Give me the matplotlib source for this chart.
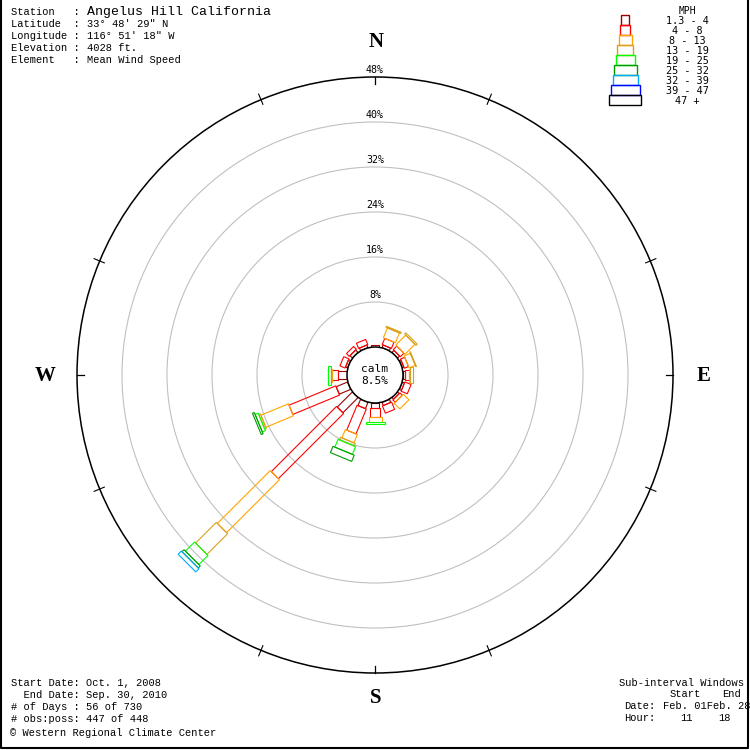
import numpy as np
import matplotlib
matplotlib.use('Agg')
import matplotlib.pyplot as plt
from matplotlib.patches import Polygon, Circle, Rectangle

# ---------------- data ----------------
directions = ['N', 'NNE', 'NE', 'ENE', 'E', 'ESE', 'SE', 'SSE',
              'S', 'SSW', 'SW', 'WSW', 'W', 'WNW', 'NW', 'NNW']
bearing_deg = [0, 22.5, 45, 67.5, 90, 112.5, 135, 157.5,
               180, 202.5, 225, 247.5, 270, 292.5, 315, 337.5]
speed_labels = ['1.3 - 4', '4 - 8', '8 - 13', '13 - 19', '19 - 25',
                '25 - 32', '32 - 39', '39 - 47', '47 +']
#            N    NNE  NE   ENE  E    ESE  SE   SSE  S    SSW  SW    WSW   W    WNW  NW   NNW
pct_1_4   = [0.3, 0.5, 0.5, 0.3, 0.4, 0.4, 0.4, 0.6, 0.9, 1.2, 3.8,  2.2,  1.6, 0.4, 0.6, 0.5]
pct_4_8   = [0.0, 1.2, 0.9, 0.8, 0.6, 1.2, 0.6, 1.4, 1.6, 4.8, 16.4, 9.0,  1.1, 1.0, 0.7, 1.0]
pct_8_13  = [0.0, 1.9, 2.5, 1.2, 0.3, 0.0, 1.4, 0.0, 0.9, 1.6, 13.3, 5.3,  0.2, 0.0, 0.0, 0.0]
pct_13_19 = [0.0, 0.2, 0.3, 0.1, 0.4, 0.0, 0.0, 0.0, 0.0, 0.5, 5.2,  0.3,  0.0, 0.0, 0.0, 0.0]
pct_19_25 = [0.0, 0.0, 0.0, 0.0, 0.0, 0.0, 0.0, 0.0, 0.3, 1.5, 2.3,  0.6,  0.5, 0.0, 0.0, 0.0]
pct_25_32 = [0.0, 0.0, 0.0, 0.0, 0.0, 0.0, 0.0, 0.0, 0.0, 1.2, 0.5,  0.35, 0.0, 0.0, 0.0, 0.0]
pct_32_39 = [0.0, 0.0, 0.0, 0.0, 0.0, 0.0, 0.0, 0.0, 0.0, 0.0, 0.8,  0.0,  0.0, 0.0, 0.0, 0.0]
pct_39_47 = [0.0, 0.0, 0.0, 0.0, 0.0, 0.0, 0.0, 0.0, 0.0, 0.0, 0.0,  0.0,  0.0, 0.0, 0.0, 0.0]
pct_47_up = [0.0, 0.0, 0.0, 0.0, 0.0, 0.0, 0.0, 0.0, 0.0, 0.0, 0.0,  0.0,  0.0, 0.0, 0.0, 0.0]
calm_pct = 8.5
ring_pct = [8, 16, 24, 32, 40, 48]

header_keys = ['Station   : ', 'Latitude  : ', 'Longitude : ', 'Elevation : ', 'Element   : ']
header_vals = ['Angelus Hill California', '33\u00b0 48\' 29" N', '116\u00b0 51\' 18" W',
               '4028 ft.', 'Mean Wind Speed']
footer_left = ['Start Date: Oct. 1, 2008', '  End Date: Sep. 30, 2010',
               '# of Days : 56 of 730', '# obs:poss: 447 of 448']
credit = '\u00a9 Western Regional Climate Center'

# ---------------- style ----------------
class_colors = ['#990000', '#ff0000', '#ffa500', '#d8a020', '#00ff00',
                '#009900', '#00aaff', '#0000ff', '#000000']
class_widths_px = [8, 10, 13, 16, 19, 23, 25, 29, 32]
PX = 5.625            # pixels per percent
CALM_R = 28 / PX      # calm circle radius in percent units
MONO = 'Liberation Mono'
SMALL = 'DejaVu Sans Mono'

fig = plt.figure(figsize=(7.5, 7.5), dpi=100)
fig.patch.set_facecolor('white')
ax = fig.add_axes([0, 0, 1, 1])
half = 375 / PX
ax.set_xlim(-half, half)
ax.set_ylim(-half, half)
ax.set_aspect('equal')
ax.axis('off')

# rings
for p in ring_pct:
    outer = (p == ring_pct[-1])
    ax.add_patch(Circle((0, 0), CALM_R + p, fill=False,
                        ec='black' if outer else '#c0c0c0',
                        lw=1.1 if outer else 0.8, zorder=1))
    ax.text(0, CALM_R + p + 0.35, f'{p}%', ha='center', va='bottom',
            fontsize=7.2, family=SMALL, zorder=2)

# outer ticks
for b in np.arange(22.5, 360, 45):
    t = np.radians(b)
    r1, r2 = 293 / PX, 304 / PX
    ax.plot([r1 * np.sin(t), r2 * np.sin(t)], [r1 * np.cos(t), r2 * np.cos(t)],
            color='black', lw=0.8, zorder=2)
for b in [0, 90, 180, 270]:
    t = np.radians(b)
    r1, r2 = 291 / PX, 298 / PX
    ax.plot([r1 * np.sin(t), r2 * np.sin(t)], [r1 * np.cos(t), r2 * np.cos(t)],
            color='black', lw=0.9, zorder=2)

# spokes
classes = [pct_1_4, pct_4_8, pct_8_13, pct_13_19, pct_19_25,
           pct_25_32, pct_32_39, pct_39_47, pct_47_up]
for i, b in enumerate(bearing_deg):
    t = np.radians(b)
    u = np.array([np.sin(t), np.cos(t)])
    n = np.array([np.cos(t), -np.sin(t)])
    r = CALM_R
    for k, arr in enumerate(classes):
        v = arr[i]
        if v <= 0:
            continue
        hw = class_widths_px[k] / PX / 2
        pts = [r * u + hw * n, (r + v) * u + hw * n,
               (r + v) * u - hw * n, r * u - hw * n]
        ax.add_patch(Polygon(pts, closed=True, fill=False,
                             ec=class_colors[k], lw=0.8, zorder=3 + k * 0.01))
        r += v

# calm circle
ax.add_patch(Circle((0, 0), CALM_R, fc='white', ec='black', lw=1.1, zorder=5))
ax.text(0, 1.15, 'calm', ha='center', va='center', fontsize=8, family=SMALL, zorder=6)
ax.text(0, -1.1, f'{calm_pct}%', ha='center', va='center', fontsize=8, family=SMALL, zorder=6)

# ---------------- overlay in pixel coordinates ----------------
tx = fig.add_axes([0, 0, 1, 1])
tx.set_xlim(0, 750)
tx.set_ylim(750, 0)
tx.axis('off')
tx.patch.set_alpha(0)

# compass letters
for lab, (x, y) in zip(['N', 'E', 'S', 'W'], [(376, 42), (704, 376), (376, 698), (45, 376)]):
    tx.text(x, y, lab, ha='center', va='center', fontsize=15, family='Liberation Serif',
            fontweight='bold')

# header
for j, (k, v) in enumerate(zip(header_keys, header_vals)):
    y = 12 + 12 * j
    tx.text(11, y, k, ha='left', va='center', fontsize=7.5, family=MONO)
    tx.text(87, y, v, ha='left', va='center', fontsize=9.5 if j == 0 else 7.5, family=MONO)

# footer left
for j, s in enumerate(footer_left):
    tx.text(11, 683 + 12 * j, s, ha='left', va='center', fontsize=7.5, family=MONO)
tx.text(10, 733, credit, ha='left', va='center', fontsize=7.5, family=MONO)

# footer right (clipped by frame)
clip = Rectangle((0, 0), 748, 748, transform=tx.transData)
right_items = [(619, 683, 'Sub-interval Windows'), (670, 694, 'Start'), (722, 694, 'End'),
               (624, 706, 'Date:'), (663, 706, 'Feb. 01Feb. 28'),
               (624, 718, 'Hour:'), (680, 718, '11'), (718, 718, '18')]
for x, y, s in right_items:
    tt = tx.text(x, y, s, ha='left', va='center', fontsize=7.5, family=MONO)
    tt.set_clip_path(clip)

# legend
tx.text(687, 11, 'MPH', ha='center', va='center', fontsize=7, family=SMALL)
for k, lab in enumerate(speed_labels):
    w = class_widths_px[k]
    tx.add_patch(Rectangle((625 - w / 2, 15 + 10 * k), w, 10, fill=False,
                           ec=class_colors[k], lw=1.0))
    tx.text(687, 21 + 10 * k, lab, ha='center', va='center', fontsize=7.3, family=SMALL)

# frame
tx.plot([1, 1, 748, 748], [0, 748, 748, 0], color='black', lw=1.5, clip_on=False)

fig.savefig('out.png', dpi=100, facecolor='white')
